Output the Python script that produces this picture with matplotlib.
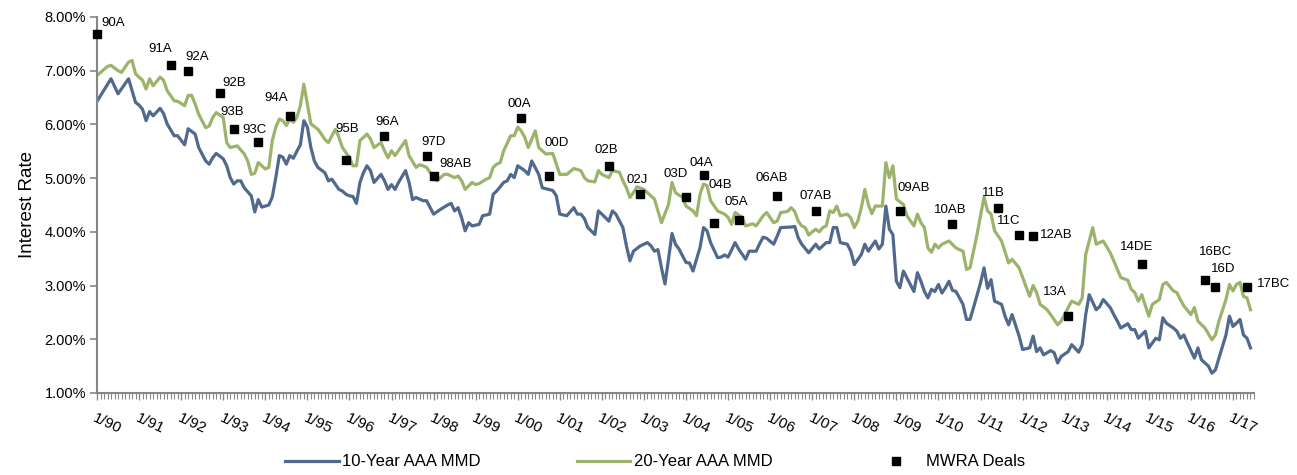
import matplotlib.pyplot as plt
from matplotlib.ticker import FuncFormatter, MultipleLocator

plt.rcParams['font.family'] = ['Liberation Sans', 'DejaVu Sans']

# month index counted from Jan 1990
t10 = [0, 4, 6, 9, 11, 12, 13, 14, 15, 16, 18, 19, 20, 22, 23, 25, 26, 28, 29, 31,
       32, 33, 34, 36, 37, 38, 39, 40, 41, 42, 44, 45, 46, 47, 49, 50, 51, 52, 53, 54,
       55, 56, 57, 58, 59, 60, 61, 62, 63, 65, 66, 67, 69, 70, 71, 72, 73, 74, 75, 76,
       77, 78, 79, 81, 82, 83, 84, 85, 86, 88, 89, 90, 91, 92, 93, 94, 96, 98, 100, 101,
       102, 103, 104, 105, 106, 107, 109, 110, 112, 113, 114, 116, 117, 118, 119, 120, 122, 123, 124, 126,
       127, 130, 131, 132, 134, 136, 137, 138, 139, 140, 142, 143, 144, 146, 147, 148, 150, 151, 152, 153,
       155, 157, 158, 159, 160, 161, 162, 163, 164, 165, 166, 168, 169, 170, 172, 173, 174, 175, 177, 178,
       179, 180, 182, 183, 185, 186, 188, 189, 190, 191, 193, 194, 195, 198, 199, 200, 201, 203, 205, 206,
       208, 209, 210, 211, 212, 214, 215, 216, 218, 219, 220, 222, 223, 224, 225, 226, 227, 228, 229, 230,
       233, 234, 235, 236, 237, 238, 239, 240, 241, 242, 243, 244, 245, 247, 248, 249, 250, 252, 253, 254,
       255, 256, 258, 259, 260, 261, 263, 264, 266, 267, 268, 269, 270, 272, 273, 274, 275, 277, 278, 280,
       281, 282, 283, 285, 286, 287, 289, 290, 291, 292, 294, 295, 296, 297, 299, 300, 302, 303, 304, 305,
       307, 308, 309, 310, 311, 313, 314, 315, 316, 317, 318, 319, 320, 322, 323, 324, 325, 326, 327, 328,
       329]
mmd10 = [6.43, 6.85, 6.57, 6.85, 6.41, 6.36, 6.28, 6.07, 6.24, 6.16, 6.30, 6.20, 6.01, 5.79, 5.79, 5.62, 5.92, 5.82, 5.57, 5.32,
         5.26, 5.38, 5.46, 5.36, 5.23, 5.01, 4.89, 4.95, 4.95, 4.82, 4.67, 4.37, 4.60, 4.46, 4.50, 4.65, 5.01, 5.42, 5.39, 5.26,
         5.42, 5.37, 5.50, 5.62, 6.07, 5.95, 5.57, 5.32, 5.20, 5.10, 4.95, 4.98, 4.79, 4.76, 4.70, 4.67, 4.66, 4.53, 4.92, 5.10,
         5.23, 5.14, 4.92, 5.07, 4.95, 4.79, 4.88, 4.79, 4.92, 5.14, 4.92, 4.60, 4.64, 4.61, 4.58, 4.58, 4.33, 4.42, 4.50, 4.53,
         4.39, 4.45, 4.26, 4.02, 4.17, 4.11, 4.14, 4.30, 4.33, 4.70, 4.76, 4.92, 4.95, 5.07, 5.01, 5.23, 5.14, 5.07, 5.32, 5.07,
         4.82, 4.77, 4.67, 4.33, 4.30, 4.45, 4.33, 4.33, 4.25, 4.08, 3.95, 4.39, 4.33, 4.20, 4.39, 4.33, 4.08, 3.74, 3.46, 3.64,
         3.74, 3.80, 3.74, 3.64, 3.67, 3.33, 3.03, 3.49, 3.97, 3.77, 3.68, 3.43, 3.42, 3.27, 3.71, 4.08, 4.02, 3.80, 3.52, 3.53,
         3.57, 3.53, 3.80, 3.68, 3.49, 3.64, 3.64, 3.78, 3.90, 3.88, 3.77, 3.92, 4.08, 4.09, 4.10, 3.89, 3.77, 3.61, 3.77, 3.68,
         3.80, 3.80, 4.08, 4.08, 3.80, 3.77, 3.64, 3.39, 3.58, 3.77, 3.64, 3.83, 3.68, 3.77, 4.48, 4.05, 3.95, 3.08, 2.96, 3.27,
         2.89, 3.24, 3.08, 2.89, 2.77, 2.93, 2.89, 3.02, 2.86, 2.96, 3.08, 2.91, 2.89, 2.65, 2.37, 2.37, 2.59, 3.05, 3.33, 2.95,
         3.11, 2.71, 2.65, 2.43, 2.27, 2.46, 2.06, 1.81, 1.84, 2.06, 1.77, 1.84, 1.71, 1.79, 1.75, 1.56, 1.68, 1.77, 1.90, 1.76,
         1.90, 2.46, 2.83, 2.55, 2.61, 2.74, 2.59, 2.46, 2.34, 2.21, 2.29, 2.18, 2.18, 2.02, 2.15, 1.84, 2.02, 1.99, 2.40, 2.30,
         2.21, 2.15, 2.02, 2.08, 1.93, 1.65, 1.84, 1.62, 1.56, 1.50, 1.37, 1.43, 1.65, 2.08, 2.43, 2.24, 2.30, 2.37, 2.08, 2.02,
         1.84]

t20 = [0, 3, 4, 6, 7, 9, 10, 11, 12, 13, 14, 15, 16, 18, 19, 20, 22, 23, 25, 26,
       27, 28, 29, 31, 32, 33, 34, 36, 37, 38, 40, 42, 43, 44, 45, 46, 48, 49, 50, 51,
       52, 53, 54, 55, 56, 57, 58, 59, 60, 61, 63, 64, 65, 66, 67, 68, 69, 70, 72, 73,
       74, 75, 77, 78, 79, 81, 82, 83, 84, 85, 88, 89, 91, 92, 93, 94, 96, 97, 99, 100,
       102, 103, 104, 105, 107, 108, 109, 111, 112, 113, 114, 115, 116, 118, 119, 120, 121, 122, 123, 125,
       126, 128, 130, 132, 134, 136, 138, 139, 140, 142, 143, 144, 146, 147, 149, 150, 151, 152, 153, 154,
       156, 157, 159, 160, 161, 163, 164, 165, 167, 168, 170, 171, 172, 173, 174, 175, 177, 178, 179, 180,
       181, 182, 184, 185, 187, 188, 190, 191, 193, 194, 195, 197, 198, 199, 200, 201, 202, 203, 204, 205,
       206, 207, 208, 209, 210, 211, 212, 214, 215, 216, 217, 218, 219, 220, 221, 222, 224, 225, 226, 227,
       228, 230, 231, 233, 234, 235, 236, 237, 238, 239, 240, 241, 242, 243, 245, 247, 248, 249, 251, 253,
       254, 255, 256, 258, 260, 261, 263, 266, 267, 268, 269, 271, 272, 274, 275, 277, 278, 280, 281, 282,
       284, 285, 287, 289, 290, 292, 294, 295, 296, 297, 298, 300, 301, 303, 304, 305, 307, 308, 309, 310,
       312, 313, 314, 316, 318, 319, 320, 322, 323, 324, 325, 326, 327, 328, 329]
mmd20 = [6.91, 7.08, 7.10, 7.00, 6.97, 7.16, 7.19, 6.94, 6.88, 6.82, 6.66, 6.85, 6.72, 6.88, 6.82, 6.63, 6.44, 6.43, 6.35, 6.54,
         6.54, 6.38, 6.19, 5.94, 5.97, 6.13, 6.22, 6.13, 5.66, 5.57, 5.60, 5.45, 5.32, 5.07, 5.09, 5.29, 5.17, 5.20, 5.70, 5.95,
         6.10, 6.07, 5.98, 6.10, 6.04, 6.13, 6.35, 6.75, 6.38, 6.01, 5.91, 5.82, 5.72, 5.66, 5.79, 5.91, 5.76, 5.57, 5.38, 5.23,
         5.23, 5.70, 5.82, 5.73, 5.57, 5.66, 5.51, 5.38, 5.51, 5.42, 5.70, 5.42, 5.20, 5.25, 5.23, 5.20, 5.01, 4.95, 5.07, 5.07,
         5.01, 5.04, 4.95, 4.79, 4.92, 4.88, 4.90, 4.98, 5.01, 5.20, 5.26, 5.29, 5.51, 5.79, 5.79, 5.95, 5.88, 5.76, 5.57, 5.88,
         5.57, 5.45, 5.46, 5.07, 5.07, 5.18, 5.14, 5.01, 4.95, 4.93, 5.14, 5.07, 5.01, 5.14, 5.11, 4.95, 4.82, 4.64, 4.73, 4.84,
         4.79, 4.73, 4.61, 4.39, 4.17, 4.51, 4.92, 4.73, 4.64, 4.48, 4.39, 4.30, 4.70, 4.89, 4.86, 4.58, 4.39, 4.36, 4.33, 4.27,
         4.14, 4.36, 4.27, 4.11, 4.15, 4.11, 4.30, 4.36, 4.17, 4.20, 4.36, 4.38, 4.45, 4.38, 4.20, 4.11, 4.08, 3.94, 4.00, 4.05,
         4.00, 4.08, 4.11, 4.39, 4.36, 4.48, 4.30, 4.33, 4.26, 4.08, 4.20, 4.45, 4.79, 4.51, 4.34, 4.48, 4.48, 5.29, 5.01, 5.23,
         4.61, 4.51, 4.30, 4.11, 4.33, 4.17, 4.08, 3.70, 3.62, 3.77, 3.70, 3.77, 3.80, 3.83, 3.70, 3.64, 3.30, 3.33, 3.95, 4.65,
         4.39, 4.33, 4.02, 3.83, 3.42, 3.49, 3.33, 2.80, 3.00, 2.87, 2.65, 2.55, 2.46, 2.27, 2.34, 2.59, 2.71, 2.65, 2.77, 3.58,
         4.08, 3.77, 3.83, 3.61, 3.46, 3.15, 3.10, 2.93, 2.87, 2.71, 2.83, 2.43, 2.65, 2.74, 3.02, 3.06, 2.90, 2.87, 2.74, 2.62,
         2.46, 2.59, 2.34, 2.21, 1.99, 2.08, 2.34, 2.74, 3.02, 2.90, 3.02, 3.06, 2.80, 2.77, 2.55]

deal_names = ['90A', '91A', '92A', '92B', '93B', '93C', '94A', '95B', '96A', '97D', '98AB',
              '00A', '00D', '02B', '02J', '03D', '04A', '04B', '05A', '06AB', '07AB', '09AB',
              '10AB', '11B', '11C', '12AB', '13A', '14DE', '16BC', '16D', '17BC']
deal_months = [0, 21, 26, 35, 39, 46, 55, 71, 82, 94, 96,
               121, 129, 146, 155, 168, 173, 176, 183, 194, 205, 229,
               244, 257, 263, 267, 277, 298, 316, 319, 328]
deal_rates = [7.69, 7.10, 7.00, 6.59, 5.91, 5.68, 6.16, 5.34, 5.79, 5.42, 5.04,
              6.12, 5.04, 5.23, 4.70, 4.65, 5.06, 4.16, 4.22, 4.67, 4.39, 4.38,
              4.14, 4.44, 3.94, 3.92, 2.43, 3.41, 3.10, 2.97, 2.97]

year_labels = ['1/90', '1/91', '1/92', '1/93', '1/94', '1/95', '1/96', '1/97', '1/98', '1/99',
               '1/00', '1/01', '1/02', '1/03', '1/04', '1/05', '1/06', '1/07', '1/08', '1/09',
               '1/10', '1/11', '1/12', '1/13', '1/14', '1/15', '1/16', '1/17']

# label placement (pixels from the marker: x shift of text centre, y shift of text bottom)
label_shift = [(16, 5), (-10, 10), (9, 8), (14, 4), (-2, 11), (-4, 6), (-14, 12), (1, 25), (3, 8), (7, 8), (22, 6),
               (-2, 8), (7, 27), (-3, 10), (-3, 8), (-10, 17), (-2, 6), (6, 32), (-2, 12), (-5, 12), (0, 9), (14, 17),
               (-2, 8), (-5, 9), (-10, 8), (23, -5), (-13, 18), (-5, 11), (11, 22), (8, 12), (27, -3)]

blue = '#50698D'
green = '#9BB36B'
grey = '#868686'

fig = plt.figure(figsize=(12.97, 4.75), dpi=100)
ax = fig.add_axes([97 / 1297, 1 - 393 / 475, (1254 - 97) / 1297, (393 - 17) / 475])

ax.plot(t10, mmd10, color=blue, lw=2.3, label='10-Year AAA MMD', solid_joinstyle='round')
ax.plot(t20, mmd20, color=green, lw=2.3, label='20-Year AAA MMD', solid_joinstyle='round')
ax.plot(deal_months, deal_rates, 's', color='black', ms=6, ls='none', label='MWRA Deals',
        clip_on=False, zorder=5)

for name, m, r, (dx, dy) in zip(deal_names, deal_months, deal_rates, label_shift):
    ax.annotate(name, (m, r), xytext=(dx * 0.72, dy * 0.72), textcoords='offset points',
                ha='center', va='bottom', fontsize=9.5, color='black')

ax.set_xlim(0, 330)
ax.set_ylim(1, 8)
ax.yaxis.set_major_locator(MultipleLocator(1))
ax.yaxis.set_major_formatter(FuncFormatter(lambda v, p: '%.2f%%' % v))
ax.set_xticks(range(0, 12 * len(year_labels), 12))
ax.set_xticklabels(year_labels, rotation=-25, ha='left', va='top', rotation_mode='anchor')
ax.xaxis.set_minor_locator(MultipleLocator(1))

for s in ['top', 'right']:
    ax.spines[s].set_visible(False)
for s in ['left', 'bottom']:
    ax.spines[s].set_color(grey)
    ax.spines[s].set_linewidth(1.5)

ax.tick_params(axis='y', length=5, width=1.2, color=grey, labelsize=10.5, pad=3)
ax.tick_params(axis='x', which='major', length=5, width=1.0, color=grey, labelsize=11, pad=8)
ax.tick_params(axis='x', which='minor', length=4, width=0.8, color=grey)
ax.set_ylabel('Interest Rate', fontsize=13.5, labelpad=6)

fig.legend(loc='lower center', bbox_to_anchor=(0.505, -0.02), ncol=3, frameon=False,
           fontsize=12, handlelength=3.2, handletextpad=0.2, columnspacing=5.8)

fig.savefig('out.png', dpi=100)
